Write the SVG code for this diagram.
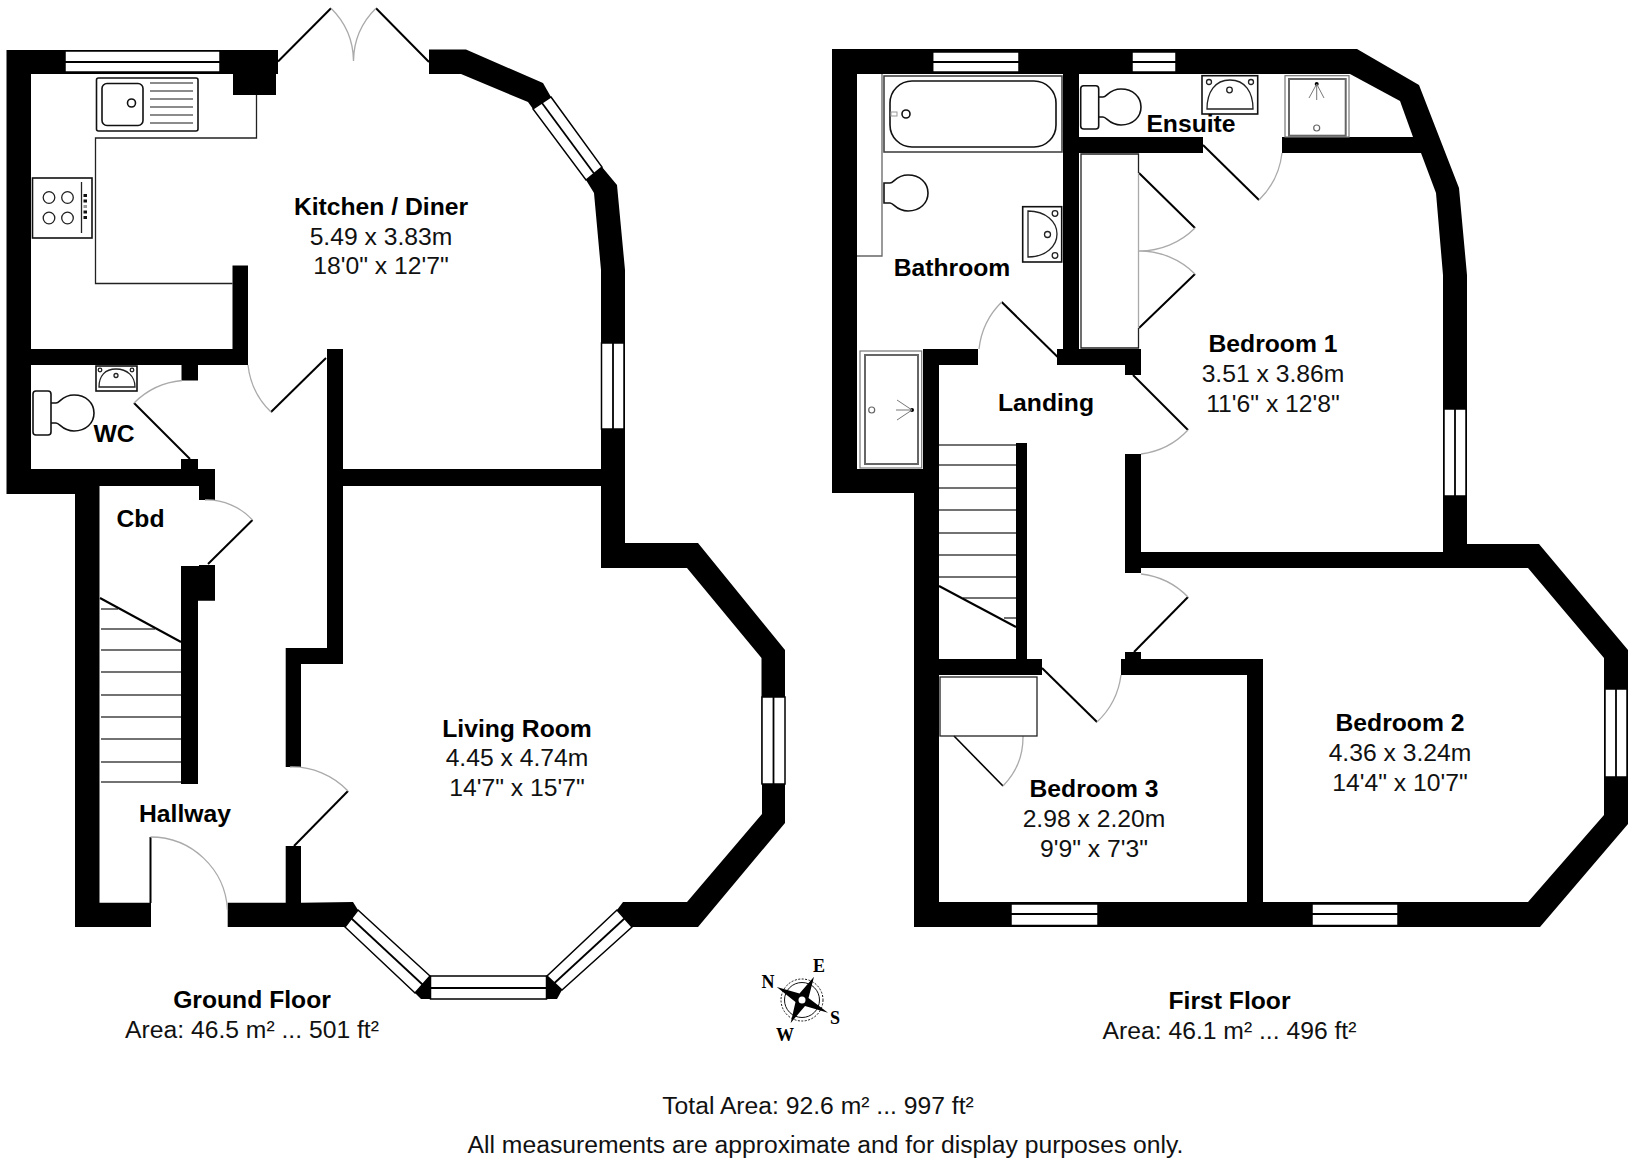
<svg xmlns="http://www.w3.org/2000/svg" width="1635" height="1171" viewBox="0 0 1635 1171">
<style>
.w{fill:#000}
.r{fill:#fff}
.win{fill:#fff;stroke:#000;stroke-width:1.5}
.mid{fill:none;stroke:#000;stroke-width:1.8}
.leaf{fill:none;stroke:#000;stroke-width:2}
.arc{fill:none;stroke:#aaa;stroke-width:1.3}
.fx{fill:#fff;stroke:#111;stroke-width:1.6}
.fxg{fill:none;stroke:#666;stroke-width:1.5}
.thin{fill:none;stroke:#222;stroke-width:1.3}
.tread{fill:none;stroke:#444;stroke-width:1.5}
text{font-family:"Liberation Sans",Arial,sans-serif;font-size:24.7px;fill:#111;text-anchor:middle}
.b{font-weight:700;fill:#000}
.c{font-family:"Liberation Serif","Times New Roman",serif;font-size:18px;font-weight:700;fill:#000}
</style>
<defs>
<g id="bowl"><path class="fx" d="M0,-10 H6 C10,-10 12,-18 24,-18 C36,-18 44,-10 44,0 C44,10 36,18 24,18 C12,18 10,10 6,10 H0 Z"/></g>
</defs>
<rect width="1635" height="1171" fill="#fff"/>

<g id="ground-floor">
<g id="ground-walls">
<polygon class="w" points="6.5,50 278,50 278,74 276,74 276,95 233,95 233,74 31,74 31,349 232.5,349 232.5,265.5 248,265.5 248,365 198,365 198,380.5 181.5,380.5 181.5,365 31,365 31,469 181,469 181,459 198,459 198,469 215,469 215,500 199,500 199,486 99.5,486 99.5,902.7 151,902.7 151,927 75,927 75,494 6.5,494"/>
<polygon class="w" points="181,566 199,566 199,565 215,565 215,600.7 198,600.7 198,784 181,784"/>
<polygon class="w" points="227.7,902.7 285.7,902.7 285.7,846 301,846 301,902.7 353,902 358,910 345,927 227.7,927"/>
<polygon class="w" points="429,49.5 466,49.5 543,83 551,97 533,109 528,102 461,74 429,74"/>
<polygon class="w" points="602,167 617,185 625,270 625,543 698,543 785,650 785,784 761.5,784 761.5,658 687,568 601,568 601,486 343,486 343,664 301,664 301,767 285.7,767 285.7,648 327,648 327,349 343,349 343,469 601,469 601,270 594,193 586,180"/>
<polygon class="w" points="785,784 785,823 698,927 632,927 617,910 623,902 687,902 762,814 762,784"/>
<polygon class="w" points="430,976 430,999 421,999 415,993"/>
<polygon class="w" points="547,976 547,999 557,999 562,990"/>
</g>
<g id="ground-windows">
<rect class="win" x="65" y="51" width="155" height="21"/><line class="mid" x1="65" y1="62" x2="220" y2="62"/>
<polygon class="win" points="551,97 602,167 586,180 533,109"/><line class="mid" x1="542" y1="103" x2="594" y2="173.5"/>
<rect class="win" x="601.5" y="343" width="22.5" height="86"/><line class="mid" x1="613" y1="343" x2="613" y2="429"/>
<rect class="win" x="762" y="697" width="23" height="87"/><line class="mid" x1="773.5" y1="697" x2="773.5" y2="784"/>
<polygon class="win" points="358,910 430,976 415,993 345,927"/><line class="mid" x1="351.5" y1="918.5" x2="422.5" y2="984.5"/>
<rect class="win" x="430.5" y="976" width="116" height="23"/><line class="mid" x1="430.5" y1="988" x2="546.5" y2="988"/>
<polygon class="win" points="617,910 547,976 562,990 632,927"/><line class="mid" x1="624.5" y1="918.5" x2="554.5" y2="983"/>
</g>
<g id="ground-doors">
<path class="leaf" d="M278,61.5 L331,8.3 M376,8.3 L429,62"/><path class="arc" d="M331,8.3 A75,75 0 0 1 353.5,61 M376,8.3 A75,75 0 0 0 353.5,61"/>
<path class="leaf" d="M326,358 L271,412"/><path class="arc" d="M271,412 A77,77 0 0 1 248,365"/>
<path class="leaf" d="M190,459 L134,403"/><path class="arc" d="M134,403 A78,78 0 0 1 182,380.5"/>
<path class="leaf" d="M208,564 L252.5,520"/><path class="arc" d="M252.5,520 A62,62 0 0 0 205,500"/>
<path class="leaf" d="M294,846 L348,791"/><path class="arc" d="M348,791 A77,77 0 0 0 290,767"/>
<path class="leaf" d="M150.5,903 L150.5,837"/><path class="arc" d="M150.5,837 A77,77 0 0 1 227.5,910"/>
</g>
<g id="ground-stairs">
<path class="tread" d="M101,609 H118 M101,629 H155 M101,650 H181 M101,672 H181 M101,695 H181 M101,717 H181 M101,739 H181 M101,762 H181 M101,782 H181"/>
<path class="leaf" d="M100,598 L181,642"/>
</g>
<g id="kitchen-fittings">
<path class="thin" d="M256.5,95 V138 H95.5 V283.5 H232.5"/>
<rect class="fx" x="96.5" y="78" width="101.5" height="53" rx="2"/>
<rect class="fx" x="102" y="83.5" width="41" height="42" rx="5"/>
<circle class="fx" cx="131.5" cy="103" r="4"/>
<path class="fxg" d="M150,83 H193 M150,91 H193 M150,99 H193 M150,107 H193 M150,115 H193 M150,123 H193"/>
<rect class="fx" x="32.5" y="178" width="59.5" height="60"/>
<circle class="thin" cx="49" cy="197.5" r="5.8"/><circle class="thin" cx="67.5" cy="197.5" r="5.8"/><circle class="thin" cx="49" cy="218" r="5.8"/><circle class="thin" cx="67.5" cy="218" r="5.8"/>
<line class="thin" x1="81.5" y1="182" x2="81.5" y2="233"/>
<rect x="83.5" y="194" width="3.5" height="3" fill="#111"/><rect x="83.5" y="199.5" width="3.5" height="3" fill="#111"/><rect x="83.5" y="205" width="3.5" height="3" fill="#999"/><rect x="83.5" y="210.5" width="3.5" height="3" fill="#111"/><rect x="83.5" y="216" width="3.5" height="3" fill="#111"/>
</g>
<g id="wc-fittings">
<rect class="fx" x="96" y="366" width="41" height="25"/>
<path class="thin" d="M99,387 C99,376 105,369 116,369 C127,369 135,376 135,387 Z"/>
<circle class="thin" cx="100" cy="370" r="1.8"/><circle class="thin" cx="132" cy="370" r="1.8"/><circle class="thin" cx="116" cy="375.5" r="2"/>
<use href="#bowl" x="50" y="413"/>
<rect class="fx" x="33" y="391" width="18" height="44" rx="3"/>
</g>
<g id="ground-labels">
<text class="b" x="381" y="215">Kitchen / Diner</text><text x="381" y="245">5.49 x 3.83m</text><text x="381" y="274">18'0" x 12'7"</text>
<text class="b" x="114" y="442">WC</text>
<text class="b" x="140.5" y="527">Cbd</text>
<text class="b" x="185" y="822">Hallway</text>
<text class="b" x="517" y="737">Living Room</text><text x="517" y="766">4.45 x 4.74m</text><text x="517" y="796">14'7" x 15'7"</text>
<text class="b" x="252" y="1008">Ground Floor</text><text x="252" y="1038">Area: 46.5 m² ... 501 ft²</text>
</g>
</g>

<g id="first-floor">
<g id="first-walls">
<polygon class="w" points="832,49 1357,49 1419,85 1459,188 1467,275 1467,544 1539,544 1628,650 1628,824 1540,927 914,927 914,493 832,493"/>
<polygon class="r" points="857,74 1063,74 1063,349 923,349 923,469 857,469"/>
<polygon class="r" points="939,365 978,365 978,349 1057,349 1057,365 1125,365 1125,659 1121,659 1121,675 1042,675 1042,659 939,659"/>
<rect class="r" x="1124" y="375" width="18" height="79"/>
<rect class="r" x="1124" y="573" width="18" height="79"/>
<polygon class="r" points="1079,153 1203,153 1203,137 1282,137 1282,153 1421,153 1436,193 1443,275 1443,552 1141,552 1141,349 1079,349"/>
<polygon class="r" points="1079,74 1350,74 1400,101 1413,137 1079,137"/>
<polygon class="r" points="1141,568 1528,568 1604,658 1604,815 1528,902 1263,902 1263,659 1141,659"/>
<polygon class="r" points="939,675 1247,675 1247,902 939,902"/>
<rect class="w" x="1016" y="443" width="11" height="216"/>
</g>
<g id="first-windows">
<rect class="win" x="932.7" y="52" width="86.3" height="20"/><line class="mid" x1="932.7" y1="62" x2="1019" y2="62"/>
<rect class="win" x="1132" y="52" width="44" height="20"/><line class="mid" x1="1132" y1="62" x2="1176" y2="62"/>
<rect class="win" x="1444" y="409" width="22" height="87"/><line class="mid" x1="1455" y1="409" x2="1455" y2="496"/>
<rect class="win" x="1605" y="689" width="22" height="88"/><line class="mid" x1="1616" y1="689" x2="1616" y2="777"/>
<rect class="win" x="1312" y="904" width="86" height="21.5"/><line class="mid" x1="1312" y1="914" x2="1398" y2="914"/>
<rect class="win" x="1011" y="904" width="87" height="21.5"/><line class="mid" x1="1011" y1="914" x2="1098" y2="914"/>
</g>
<g id="first-doors">
<path class="leaf" d="M1203,145 L1259,200"/><path class="arc" d="M1259,200 A78,78 0 0 0 1282,153"/>
<path class="leaf" d="M1057.7,357 L1001.7,302"/><path class="arc" d="M1001.7,302 A78,78 0 0 0 979,349"/>
<path class="leaf" d="M1133,375 L1188,430"/><path class="arc" d="M1188,430 A78,78 0 0 1 1141,454"/>
<path class="leaf" d="M1134,652 L1188,597"/><path class="arc" d="M1188,597 A78,78 0 0 0 1141,574"/>
<path class="leaf" d="M1042,668 L1097,722"/><path class="arc" d="M1097,722 A78,78 0 0 0 1121,675"/>
<path class="leaf" d="M954,736 L1003,786" style="stroke-width:1.6"/><path class="arc" d="M1003,786 A70,70 0 0 0 1023,736"/>
<path class="leaf" d="M1139,173 L1195,228 M1139,328 L1195,274"/><path class="arc" d="M1195,228 A78,78 0 0 1 1139,251 A78,78 0 0 1 1195,274"/>
</g>
<g id="first-stairs">
<path class="tread" d="M939,445 H1016 M939,465 H1016 M939,488 H1016 M939,510 H1016 M939,533 H1016 M939,555 H1016 M939,577 H1016 M963,598 H1016 M1004,618 H1016"/>
<path class="leaf" d="M939,586 L1016,627"/>
</g>
<g id="cupboards">
<path class="thin" d="M1138.5,173 V154 H1081 V348 H1138.5 V328"/>
<line class="arc" x1="1138.5" y1="173" x2="1138.5" y2="328"/>
<rect class="thin" x="940" y="677" width="97" height="59"/>
</g>
<g id="bathroom-fittings">
<path d="M882,74 V256 H857" fill="none" stroke="#666" stroke-width="1.3"/>
<rect x="884" y="76" width="178" height="76" fill="#fff" stroke="#444" stroke-width="1.6"/>
<rect class="fx" x="890" y="81" width="166" height="66" rx="22"/>
<rect x="891" y="112" width="6" height="4" fill="none" stroke="#999"/>
<circle class="fx" cx="906" cy="114" r="4"/>
<use href="#bowl" x="884" y="193"/>
<rect class="fx" x="1022.7" y="206.7" width="39" height="55.3"/>
<path class="thin" d="M1028,211 C1046,211 1057,222 1057,234 C1057,246 1046,257 1028,257 Z"/>
<circle class="thin" cx="1055" cy="213.5" r="2.8"/><circle class="thin" cx="1055" cy="255.5" r="2.8"/><circle class="thin" cx="1047.5" cy="234.5" r="3"/>
<rect x="860" y="351" width="61.7" height="117" fill="#fff" stroke="#777" stroke-width="1.2"/>
<rect x="865" y="355" width="53" height="109" fill="none" stroke="#666" stroke-width="2"/>
<circle cx="871.7" cy="410" r="3" fill="#fff" stroke="#666" stroke-width="1.2"/>
<circle cx="912" cy="410" r="2" fill="#000"/>
<path d="M912,410 L897,400 M912,410 L897,420 M912,410 H896" fill="none" stroke="#777" stroke-width="1"/>
</g>
<g id="ensuite-fittings">
<use href="#bowl" x="1097" y="107"/>
<rect class="fx" x="1080.7" y="85.7" width="18" height="43.3" rx="3"/>
<rect class="fx" x="1202" y="75.7" width="55.7" height="38.3"/>
<path class="thin" d="M1207,109 C1207,92 1215,80 1230,80 C1245,80 1253,92 1253,109 Z"/>
<circle class="thin" cx="1209" cy="82" r="2.5"/><circle class="thin" cx="1251" cy="82" r="2.5"/><circle class="thin" cx="1229.5" cy="90" r="2.8"/>
<rect x="1285" y="75.7" width="64" height="61.3" fill="#fff" stroke="#777" stroke-width="1.2"/>
<rect x="1289" y="79" width="56.7" height="56.7" fill="none" stroke="#666" stroke-width="2"/>
<circle cx="1316.7" cy="128" r="3" fill="#fff" stroke="#666" stroke-width="1.2"/>
<circle cx="1316.7" cy="84" r="2" fill="#000"/>
<path d="M1316.7,84 L1309,98 M1316.7,84 L1324,98 M1316.7,84 V100" fill="none" stroke="#777" stroke-width="1"/>
</g>
<g id="first-labels">
<text class="b" x="1191" y="132">Ensuite</text>
<text class="b" x="952" y="276">Bathroom</text>
<text class="b" x="1046" y="411">Landing</text>
<text class="b" x="1273" y="352">Bedroom 1</text><text x="1273" y="382">3.51 x 3.86m</text><text x="1273" y="412">11'6" x 12'8"</text>
<text class="b" x="1400" y="731">Bedroom 2</text><text x="1400" y="761">4.36 x 3.24m</text><text x="1400" y="791">14'4" x 10'7"</text>
<text class="b" x="1094" y="797">Bedroom 3</text><text x="1094" y="827">2.98 x 2.20m</text><text x="1094" y="857">9'9" x 7'3"</text>
<text class="b" x="1232" y="1009" dx="-2.5">First Floor</text><text x="1229.5" y="1039">Area: 46.1 m² ... 496 ft²</text>
</g>
</g>

<g id="compass">
<circle cx="802" cy="1000" r="17.5" fill="none" stroke="#111" stroke-width="1"/>
<circle cx="802" cy="1000" r="21" fill="none" stroke="#111" stroke-width="1" stroke-dasharray="2 1.5"/>
<polygon fill="#000" points="776.7,987 799.5,993.5 814,976.7 808.5,998 828,1012.7 805,1006 790.7,1023 795.5,1002"/>
<circle cx="802" cy="1000" r="3.5" fill="#fff"/>
<text class="c" x="768" y="988">N</text><text class="c" x="819" y="972">E</text><text class="c" x="835" y="1024">S</text><text class="c" x="785" y="1041">W</text>
</g>

<g id="footer">
<text x="818" y="1114">Total Area: 92.6 m² ... 997 ft²</text>
<text x="825.5" y="1153">All measurements are approximate and for display purposes only.</text>
</g>
</svg>
